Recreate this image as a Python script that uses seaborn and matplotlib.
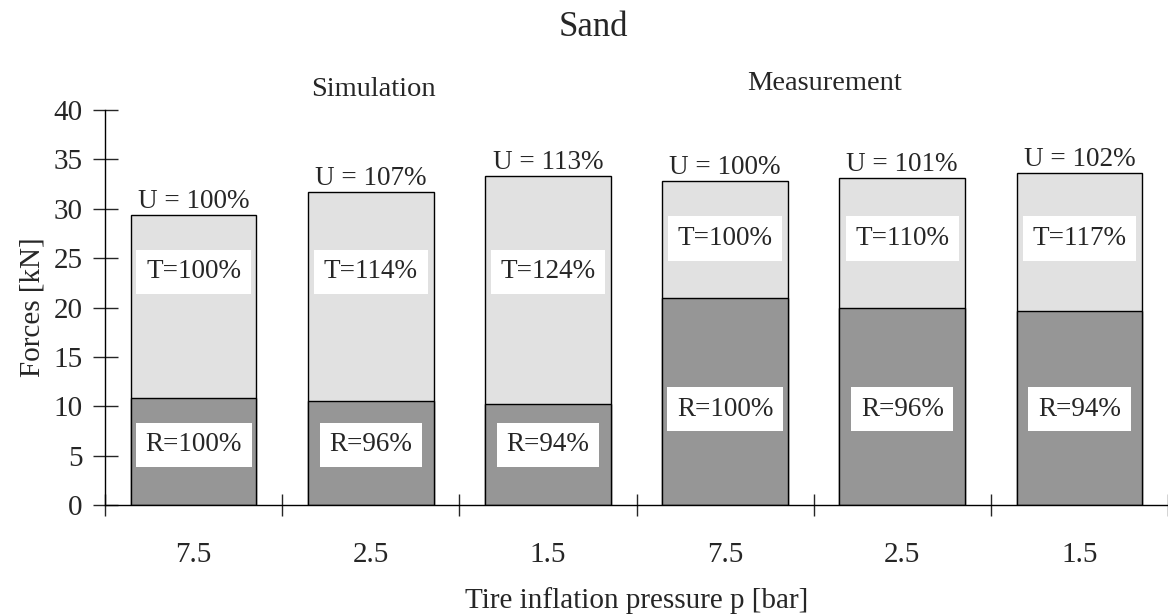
import pandas as pd
import numpy as np
import matplotlib.pyplot as plt
import seaborn as sns

# data
pressure = ["7.5", "2.5", "1.5", "7.5", "2.5", "1.5"]
groups = ["Simulation", "Measurement"]
rolling = [10.8, 10.5, 10.2, 21.0, 20.0, 19.6]   # R [kN]
total = [29.4, 31.7, 33.3, 32.8, 33.1, 33.6]     # U [kN]
u_pct = [100, 107, 113, 100, 101, 102]
t_pct = [100, 114, 124, 100, 110, 117]
r_pct = [100, 96, 94, 100, 96, 94]

df = pd.DataFrame({
    "cond": [f"{g} {p}" for g in groups for p in pressure[:3]],
    "R": rolling,
    "U": total,
})

sns.set_theme(style="white")
plt.rcParams["font.family"] = ["Liberation Serif", "DejaVu Serif"]
plt.rcParams["font.size"] = 19

fig = plt.figure(figsize=(11.68, 6.16), dpi=100)
ax = fig.add_axes([105 / 1168, 111 / 616, 1063 / 1168, 395 / 616])

sns.barplot(data=df, x="cond", y="U", color="#e1e1e1", width=0.71,
            edgecolor="black", linewidth=1, saturation=1, ax=ax)
sns.barplot(data=df, x="cond", y="R", color="#969696", width=0.71,
            edgecolor="black", linewidth=1, saturation=1, ax=ax)

box = dict(facecolor="white", edgecolor="none", pad=7)
for i in range(len(df)):
    sim = i < 3
    ax.text(i, total[i] + 0.1, f"U = {u_pct[i]}%", ha="center", va="bottom", fontsize=19.5)
    ax.text(i, 23.6 if sim else 27.0, f"T={t_pct[i]}%", ha="center", va="center",
            fontsize=19.5, bbox=box)
    ax.text(i, 6.1 if sim else 9.7, f"R={r_pct[i]}%", ha="center", va="center",
            fontsize=19.5, bbox=box)

ax.set_xlim(-0.5, 5.47)
ax.set_ylim(0, 40)
ax.set_yticks(range(0, 41, 5))
ax.set_xticks(range(6))
ax.set_xticklabels(pressure)
ax.set_xticks(np.arange(-0.5, 5.6, 1), minor=True)
ax.tick_params(axis="x", which="major", length=0, pad=27, labelsize=21)
ax.tick_params(axis="x", which="minor", length=16, direction="inout", width=1, bottom=True)
ax.tick_params(axis="y", length=18, direction="inout", width=1, left=True, labelsize=21, pad=7)

for s in ["top", "right"]:
    ax.spines[s].set_visible(False)
for s in ["left", "bottom"]:
    ax.spines[s].set_color("black")
    ax.spines[s].set_linewidth(1)

ax.set_xlabel("Tire inflation pressure p [bar]", fontsize=21, labelpad=13)
ax.set_ylabel("Forces [kN]", fontsize=21, labelpad=6)

fig.text(593 / 1168, 1 - 28 / 616, "Sand", ha="center", va="center", fontsize=25)
fig.text(373 / 1168, 1 - 90 / 616, groups[0], ha="center", va="center", fontsize=20.5)
fig.text(825 / 1168, 1 - 84 / 616, groups[1], ha="center", va="center", fontsize=20.5)

fig.savefig("out.png", dpi=100)
